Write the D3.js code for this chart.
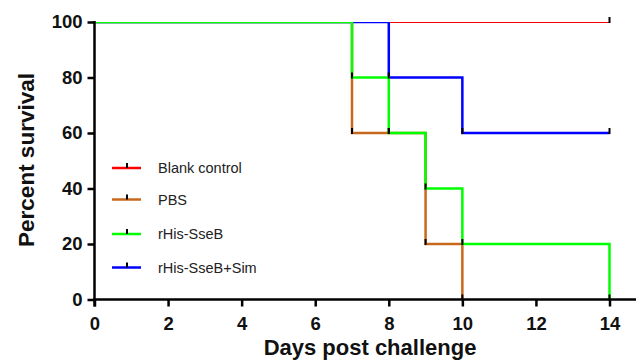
<!DOCTYPE html>
<html>
<head>
<meta charset="utf-8">
<script src="https://cdn.jsdelivr.net/npm/d3@7"></script>
<style>
  body { margin: 0; background: #fff; }
  svg { display: block; font-family: Arial, "Liberation Sans", sans-serif; }
</style>
</head>
<body>
<svg id="graph"></svg>
<script>
// Data: Kaplan-Meier steps, [day, percent survival]
var seriesNames = ["Blank control", "PBS", "rHis-SseB", "rHis-SseB+Sim"];
var seriesColors = ["#ff0000", "#c8681c", "#00ff00", "#0000ff"];
var blankControl = [[0, 100], [14, 100]];
var pbs = [[0, 100], [7, 60], [8, 60], [9, 20], [10, 0]];
var rHisSseB = [[0, 100], [7, 80], [8, 60], [9, 40], [10, 20], [14, 0]];
var rHisSseBSim = [[0, 100], [8, 80], [10, 60], [14, 60]];
var xTicks = [0, 2, 4, 6, 8, 10, 12, 14];
var yTicks = [0, 20, 40, 60, 80, 100];

var allSeries = [blankControl, pbs, rHisSseB, rHisSseBSim];
var drawOrder = [0, 1, 3, 2]; // green ends up on top, like the original

var W = 636, H = 361;
var svg = d3.select("#graph").attr("width", W).attr("height", H);

var x = d3.scaleLinear().domain([0, 14]).range([94.5, 609.5]);
var y = d3.scaleLinear().domain([0, 100]).range([299.5, 22]);

// clip so lines at 100 look half cut like the original
svg.append("clipPath").attr("id", "plotclip")
  .append("rect").attr("x", 94).attr("y", 22).attr("width", 560).attr("height", 300);

var stepLine = d3.line()
  .x(d => x(d[0]))
  .y(d => y(d[1]))
  .curve(d3.curveStepAfter);

var plot = svg.append("g").attr("clip-path", "url(#plotclip)");

drawOrder.forEach(function(i) {
  plot.append("path")
    .datum(allSeries[i])
    .attr("d", stepLine)
    .attr("fill", "none")
    .attr("stroke", seriesColors[i])
    .attr("stroke-width", i == 0 ? 2 : 2.5);
});

// little black ticks at each step point
allSeries.forEach(function(s) {
  svg.append("g").selectAll("line")
    .data(s.slice(1))
    .enter().append("line")
    .attr("x1", d => x(d[0]))
    .attr("x2", d => x(d[0]))
    .attr("y1", d => y(d[1]) - 5)
    .attr("y2", d => y(d[1]) + 1)
    .attr("stroke", "#000")
    .attr("stroke-width", 2);
});

// axes
var xAxis = svg.append("g")
  .attr("transform", "translate(0," + y(0) + ")")
  .call(d3.axisBottom(x).tickValues(xTicks).tickSize(7).tickPadding(10));
xAxis.select(".domain").remove();
xAxis.append("line").attr("x1", 93).attr("x2", W).attr("stroke", "#000").attr("stroke-width", 2.5);
xAxis.selectAll(".tick line").attr("stroke-width", 2.5);
xAxis.selectAll(".tick text").attr("font-size", 18.5).attr("font-weight", "bold").attr("fill", "#111");

var yAxis = svg.append("g")
  .attr("transform", "translate(" + x(0) + ",0)")
  .call(d3.axisLeft(y).tickValues(yTicks).tickSize(7).tickPadding(5));
yAxis.select(".domain").remove();
yAxis.append("line").attr("y1", y(100) - 1).attr("y2", y(0) + 7).attr("stroke", "#000").attr("stroke-width", 2.5);
yAxis.selectAll(".tick line").attr("stroke-width", 2.5);
yAxis.selectAll(".tick text").attr("font-size", 18.5).attr("font-weight", "bold").attr("fill", "#111");

// axis titles
svg.append("text")
  .attr("x", 370).attr("y", 355)
  .attr("text-anchor", "middle")
  .attr("font-size", 22).attr("font-weight", "bold")
  .attr("fill", "#111")
  .text("Days post challenge");

svg.append("text")
  .attr("transform", "translate(34,160) rotate(-90)")
  .attr("text-anchor", "middle")
  .attr("font-size", 22.5).attr("font-weight", "bold")
  .attr("fill", "#111")
  .text("Percent survival");

// legend
var legendY = [168, 199.5, 234, 267.5];
var legend = svg.append("g").selectAll("g")
  .data(seriesNames)
  .enter().append("g")
  .attr("transform", (d, i) => "translate(0," + legendY[i] + ")");
legend.append("line")
  .attr("x1", 112).attr("x2", 141)
  .attr("stroke", (d, i) => seriesColors[i])
  .attr("stroke-width", 2.5);
legend.append("line")
  .attr("x1", 127).attr("x2", 127).attr("y1", -5).attr("y2", 0)
  .attr("stroke", "#000").attr("stroke-width", 2);
legend.append("text")
  .attr("x", 158).attr("y", 5)
  .attr("font-size", 14.5)
  .attr("fill", "#222")
  .text(d => d);
</script>
</body>
</html>
